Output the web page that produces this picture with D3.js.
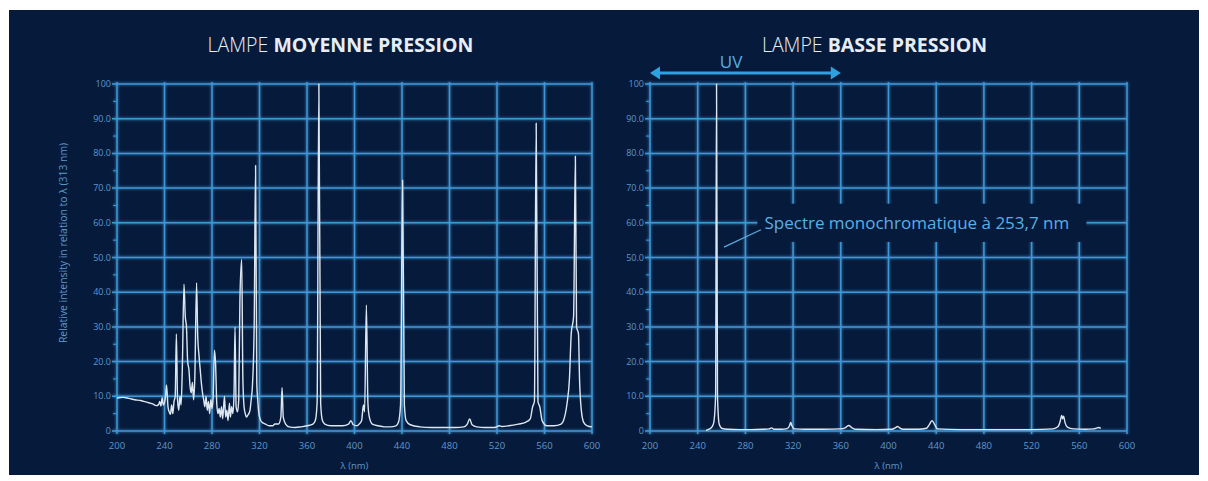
<!DOCTYPE html>
<html>
<head>
<meta charset="utf-8">
<script src="https://cdn.jsdelivr.net/npm/d3@7"></script>
<style>
  body { margin: 0; background: #fff; }
  svg { display: block; }
</style>
</head>
<body>
<div id="chart"></div>
<script>
// wavelength (nm) / relative intensity
const mediumWl = [200,205,210,215,220,225,230,233,235,236,237,238,239,240,241,241.7,243,244,245,246,247,248,249,250,251,252,253,254,255,256.4,257.5,258.5,259.5,260.6,261.5,262.5,263.5,264.5,265.5,267,268,269,270,271,272,273,274,275,276,277,278,279,280,281,282,283,284,285,286,287,288,289,290.5,291.5,292.5,293.5,294.7,295.5,296.5,297.5,298.5,299.4,300.3,301.5,302.5,303.5,305,306,307,308,309,310,311,312,313,314,315.5,316.7,317.7,318.5,319.5,320.5,322,325,328,331,333,336,338,339,340,342,345,350,355,360,365,367,368.5,370,371.5,373,375,380,385,390,395,397,399,402,404,406,407.5,408.5,410,411.3,412.5,415,420,425,430,435,437,438.8,440.5,442,443.5,447,455,465,475,485,492,495,497,499,503,510,518,522,524,530,538,544,548,550,551.5,553,554.5,556,558,562,568,574,576,579,581,582.5,584.5,586,587,588.6,589.5,591,593,596,600];
const mediumVal = [9.5,9.7,9.4,9.0,8.8,8.3,7.8,7.3,7.6,8.5,7.2,9.6,7.5,8.2,10.5,13.3,6.8,5.5,4.8,7.5,5.0,8.5,10,28,9,6,10,7.5,18,42.3,33,30,20,17.6,13,11,14,9,15,42.7,27,22,18,14,11,9,7,10,6,8.5,5,9,6.5,10,23.3,19.5,8,5,6.5,4,7,3.5,10,4,6,3,8,4,7,5,10,30,7,5.5,9,37.7,49.5,15,7,5,4,4.5,5,6,9,12.7,30,76.5,14,9,5,3.5,2.5,2,1.5,1.5,2,2,4,12.5,4,2,1.2,1,1.2,1.5,2,3,8,100,8,3,2,1.5,1.5,1.5,2,3,1.8,1.5,2,3,7.5,5.5,36.3,8,4,2,1.5,1.2,1.2,1.5,2.5,7.5,72.3,7.5,3,1.8,1.2,1,1,1,1.2,2,3.5,1.8,1.2,1,1,1.5,1.3,1.5,2,2.5,3.5,7,8.5,88.7,8.5,7,3,1.5,1.5,2,3,8,15,28,33,79.2,30,28,15,6,2.5,1.5,1.2];

const lowWl = [247,250,252,253.5,255,255.8,256.6,258,260,265,275,285,295,300,302,304,310,315,317,318,319,321,330,345,360,364,366.7,369,372,390,403,406,407.6,409,412,425,432,434.5,436.5,438.5,441,460,490,520,538,542,544,545.2,546,546.8,548,550,555,565,572,575,576.5,578];
const lowVal = [0.2,0.6,1.2,2.5,10,100,10,2,0.8,0.5,0.4,0.4,0.5,0.6,0.9,0.5,0.5,0.7,1.5,2.5,1.5,0.6,0.5,0.5,0.6,1,1.6,1,0.5,0.4,0.5,1,1.3,1,0.5,0.5,0.8,2,3,2,0.6,0.4,0.4,0.4,0.6,1.2,2.8,4.5,3.5,4.3,2.5,1.1,0.6,0.5,0.6,0.9,1,0.7];

const xTicks = [200,240,280,320,360,400,440,480,520,560,600];
const yTicks = [0,10,20,30,40,50,60,70,80,90,100];
const yTickLabels = ["0","10.0","20.0","30.0","40.0","50.0","60.0","70.0","80.0","90.0","100"];

const W = 1208, H = 481;
const bg = "#061b3b";
const gridColor = "#46a5e8";
const labelColor = "#5f97cc";

const svg = d3.select("#chart").append("svg").attr("width", W).attr("height", H);

const defs = svg.append("defs");
const glow = defs.append("filter").attr("id", "glow").attr("x", "-5%").attr("y", "-5%").attr("width", "110%").attr("height", "110%");
glow.append("feGaussianBlur").attr("stdDeviation", 1.8).attr("result", "b");
const merge = glow.append("feMerge");
merge.append("feMergeNode").attr("in", "b");
merge.append("feMergeNode").attr("in", "SourceGraphic");

svg.append("rect").attr("x", 9).attr("y", 10).attr("width", 1190).attr("height", 465).attr("fill", bg);

function panel(left, right, wl, val, title) {
  const x = d3.scaleLinear().domain([200, 600]).range([left, right]);
  const y = d3.scaleLinear().domain([0, 100]).range([431, 84]);
  const g = svg.append("g");

  const grid = g.append("g").attr("filter", "url(#glow)")
    .attr("stroke", gridColor).attr("stroke-width", 1.5).attr("opacity", 0.9);
  grid.selectAll(".v").data(xTicks).join("line")
    .attr("x1", d => x(d)).attr("x2", d => x(d)).attr("y1", y(100) - 2).attr("y2", y(0) + 3);
  grid.selectAll(".h").data(yTicks).join("line")
    .attr("x1", x(200) - 5).attr("x2", x(600)).attr("y1", d => y(d)).attr("y2", d => y(d));
  grid.selectAll(".m").data(d3.range(5, 100, 10)).join("line")
    .attr("x1", x(200) - 4).attr("x2", x(200)).attr("y1", d => y(d)).attr("y2", d => y(d))
    .attr("stroke-width", 1);

  g.append("g").selectAll("text").data(xTicks).join("text")
    .attr("x", d => x(d)).attr("y", 449).attr("text-anchor", "middle")
    .attr("fill", labelColor).attr("font-size", 9.5).attr("font-family", "Open Sans")
    .text(d => d);
  g.append("g").selectAll("text").data(yTicks).join("text")
    .attr("x", x(200) - 6).attr("y", d => y(d) + 3).attr("text-anchor", "end")
    .attr("fill", labelColor).attr("font-size", 9).attr("font-family", "Open Sans")
    .text((d, i) => yTickLabels[i]);

  g.append("text").attr("x", (left + right) / 2).attr("y", 469).attr("text-anchor", "middle")
    .attr("fill", labelColor).attr("font-size", 9.5).attr("font-family", "Open Sans").text("λ (nm)");

  const t = g.append("text").attr("x", (left + right) / 2 - 14).attr("y", 52).attr("text-anchor", "middle")
    .attr("fill", "#e6edf5").attr("font-size", 19.5).attr("font-family", "Open Sans");
  t.append("tspan").attr("font-weight", 300).text("LAMPE ");
  t.append("tspan").attr("font-weight", "bold").text(title);

  const line = d3.line().x(d => x(d[0])).y(d => y(d[1])).curve(d3.curveMonotoneX);
  g.append("path").datum(d3.zip(wl, val)).attr("d", line)
    .attr("fill", "none").attr("stroke", "#dde7f2").attr("stroke-width", 1.4)
    .attr("stroke-linejoin", "round");
  return { x, y, g };
}

panel(117, 592, mediumWl, mediumVal, "MOYENNE PRESSION");

svg.append("text").attr("transform", "translate(67,243) rotate(-90)").attr("text-anchor", "middle")
  .attr("fill", labelColor).attr("font-size", 10.4).attr("font-family", "Open Sans")
  .text("Relative intensity in relation to λ (313 nm)");

const right = panel(650, 1127, lowWl, lowVal, "BASSE PRESSION");
const rx = right.x, ry = right.y;

// mask under annotation text
svg.append("rect").attr("x", rx(290)).attr("y", ry(65.5)).attr("width", rx(566) - rx(290)).attr("height", ry(54.5) - ry(65.5))
  .attr("fill", bg);
svg.append("line").attr("x1", rx(262)).attr("y1", ry(53)).attr("x2", rx(293)).attr("y2", ry(58))
  .attr("stroke", "#5aa9e0").attr("stroke-width", 1.3);
svg.append("text").attr("x", rx(296)).attr("y", ry(60) + 6)
  .attr("fill", "#5aaee6").attr("font-size", 17).attr("font-family", "Open Sans")
  .text("Spectre monochromatique à 253,7 nm");

// UV range arrow
const ay = 73;
svg.append("line").attr("x1", rx(200) + 6).attr("x2", rx(360) - 6).attr("y1", ay).attr("y2", ay)
  .attr("stroke", "#2ea2e0").attr("stroke-width", 3);
svg.append("path").attr("d", `M${rx(200)},${ay} l10,-6.5 l0,13 z M${rx(360)},${ay} l-10,-6.5 l0,13 z`).attr("fill", "#2ea2e0");
svg.append("text").attr("x", rx(268)).attr("y", 68).attr("text-anchor", "middle")
  .attr("fill", "#5aaee6").attr("font-size", 17).attr("font-family", "Open Sans").text("UV");
</script>
</body>
</html>
